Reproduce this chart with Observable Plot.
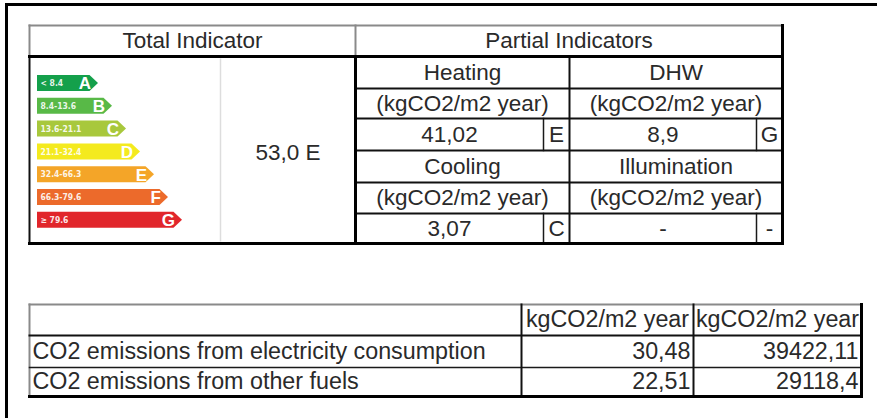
<!DOCTYPE html>
<html><head><meta charset="utf-8">
<script src="https://cdn.jsdelivr.net/npm/d3@7"></script>
<script src="https://cdn.jsdelivr.net/npm/@observablehq/plot@0.6"></script>
<style>body{margin:0;background:#fff}#chart svg{display:block}</style>
</head><body><div id="chart"></div>
<script>
// ---- data ----
const tableHeaders = ["Total Indicator", "Partial Indicators"];
const classes = ["A", "B", "C", "D", "E", "F", "G"];
const classRanges = ["< 8.4", "8.4-13.6", "13.6-21.1", "21.1-32.4", "32.4-66.3", "66.3-79.6", "\u2265 79.6"];
const totalValue = 53.0;
const totalClass = "E";
const partialNames = ["Heating", "DHW", "Cooling", "Illumination"];
const partialUnit = "(kgCO2/m2 year)";
const partialValues = [41.02, 8.9, 3.07, null];
const partialClasses = ["E", "G", "C", "-"];
const emissionHeaders = ["kgCO2/m2 year", "kgCO2/m2 year"];
const emissionRows = ["CO2 emissions from electricity consumption", "CO2 emissions from other fuels"];
const emissionPerM2 = [30.48, 22.51];
const emissionTotal = [39422.11, 29118.4];

// ---- style ----
const classColors = ["#14a04b", "#58b947", "#a8c83c", "#f4ea1e", "#f4a528", "#ec6a2b", "#e1262b"];
const FONT = "Liberation Sans, Arial, sans-serif";
const NARROW = "Liberation Sans Narrow, DejaVu Sans Condensed, Arial Narrow, sans-serif";
const INK = "#2a2a2a";
const FS = 22.5;
const FS_LOW = 23.3;

// ---- layout ----
const W = 877, H = 418;
const T = {left: 29, faint: 220, split: 355, right: 782, top: 25, head: 56, bottom: 243};
const pRows = [56, 88, 118, 150, 182, 213, 243];
const pCols = [355, 569, 782];
const letterW = 26;
const B = {cols: [29, 521, 693, 861], rows: [304, 335, 367, 396]};
const L = {x0: 37, y0: 83, step: 22.8, h: 16, len0: 61, lenStep: 14, tip: 8.5};

const fmt = v => v == null ? "-" : String(v).replace(".", ",");

// ---- segments ----
const seg = (x1, y1, x2, y2) => ({x1, y1, x2, y2});
const linkMark = (list, stroke, strokeWidth, cap = "square") =>
  Plot.link(list, {x1: "x1", y1: "y1", x2: "x2", y2: "y2", stroke, strokeWidth, strokeLinecap: cap});

const frame = [seg(6, 4, W + 5, 4), seg(6, 4, 6, H + 5)];
const grayLines = [
  seg(T.left, T.top, T.right, T.top),
  seg(T.left, T.top, T.left, T.head),
  seg(T.split, T.top, T.split, T.head),
  seg(B.cols[0], B.rows[0], B.cols[3], B.rows[0]),
  seg(B.cols[0], B.rows[0], B.cols[0], B.rows[3])
];
const faintLines = [seg(T.faint, T.head + 2, T.faint, T.bottom - 2)];
const blackThick = [
  seg(T.left, T.head, T.right, T.head),
  seg(T.left, T.bottom, T.right, T.bottom),
  seg(T.right, T.top, T.right, T.bottom),
  seg(T.split, T.head, T.split, T.bottom),
  seg(B.cols[0], B.rows[3], B.cols[3], B.rows[3]),
  seg(B.cols[3], B.rows[0], B.cols[3], B.rows[3])
];
const blackMid = [
  seg(T.left, T.head, T.left, T.bottom),
  ...pRows.slice(1, -1).map(y => seg(T.split, y, T.right, y)),
  seg(pCols[1], T.head, pCols[1], T.bottom),
  seg(B.cols[0], B.rows[1], B.cols[3], B.rows[1]),
  seg(B.cols[1], B.rows[0], B.cols[1], B.rows[3]),
  seg(B.cols[2], B.rows[0], B.cols[2], B.rows[3])
];
const blackThin = [
  seg(B.cols[0], B.rows[2], B.cols[3], B.rows[2])
];
[2, 5].forEach(r => [1, 2].forEach(c => blackThin.push(seg(pCols[c] - letterW, pRows[r], pCols[c] - letterW, pRows[r + 1]))));

// ---- texts ----
const mid = (a, b) => (a + b) / 2;
const textsMid = [], lowMid = [], lowStart = [], lowEnd = [];
textsMid.push({x: mid(T.left, T.split), y: mid(T.top, T.head), t: tableHeaders[0]});
textsMid.push({x: mid(T.split, T.right), y: mid(T.top, T.head), t: tableHeaders[1]});
textsMid.push({x: mid(T.faint, T.split), y: mid(T.head, T.bottom) + 3, t: `${totalValue.toFixed(1).replace(".", ",")} ${totalClass}`});
partialNames.forEach((name, i) => {
  const c = i % 2, block = Math.floor(i / 2);
  const x0 = pCols[c], x1 = pCols[c + 1];
  const r0 = block * 3;
  textsMid.push({x: mid(x0, x1), y: mid(pRows[r0], pRows[r0 + 1]), t: name});
  textsMid.push({x: mid(x0, x1), y: mid(pRows[r0 + 1], pRows[r0 + 2]), t: partialUnit});
  textsMid.push({x: mid(x0, x1 - letterW), y: mid(pRows[r0 + 2], pRows[r0 + 3]), t: fmt(partialValues[i])});
  textsMid.push({x: mid(x1 - letterW, x1), y: mid(pRows[r0 + 2], pRows[r0 + 3]), t: partialClasses[i]});
});
emissionHeaders.forEach((h, j) => lowMid.push({x: mid(B.cols[j + 1], B.cols[j + 2]), y: mid(B.rows[0], B.rows[1]), t: h}));
emissionRows.forEach((r, i) => {
  const y = mid(B.rows[i + 1], B.rows[i + 2]);
  lowStart.push({x: B.cols[0] + 3, y, t: r});
  lowEnd.push({x: B.cols[2] - 3, y, t: fmt(emissionPerM2[i])});
  lowEnd.push({x: B.cols[3] - 3, y, t: fmt(emissionTotal[i])});
});

// ---- energy label arrows ----
const arrowMarks = [];
const rangeTexts = [], letterTexts = [];
classes.forEach((c, i) => {
  const yc = L.y0 + i * L.step;
  const tip = L.x0 + L.len0 + i * L.lenStep;
  const end = tip - L.tip;
  const pts = [
    {y: yc - L.h / 2, x1: L.x0, x2: end},
    {y: yc, x1: L.x0, x2: tip},
    {y: yc + L.h / 2, x1: L.x0, x2: end}
  ];
  arrowMarks.push(Plot.areaX(pts, {y: "y", x1: "x1", x2: "x2", fill: classColors[i], curve: "linear"}));
  rangeTexts.push({x: L.x0 + 3, y: yc, t: classRanges[i]});
  letterTexts.push({x: end + 1, y: yc + 0.5, t: c});
});

const txt = (list, anchor, size) => Plot.text(list, {x: "x", y: "y", text: "t", textAnchor: anchor, fill: INK, fontSize: size, fontFamily: FONT, lineAnchor: "middle"});

const chart = Plot.plot({
  width: W, height: H,
  margin: 0,
  x: {domain: [0, W], range: [0, W], axis: null},
  y: {domain: [0, H], range: [0, H], axis: null},
  style: {background: "#fff"},
  marks: [
    ...arrowMarks,
    Plot.text(rangeTexts, {x: "x", y: "y", text: "t", textAnchor: "start", fill: "#fff", fillOpacity: 0.9, fontSize: 8.5, fontWeight: "bold", fontFamily: NARROW, lineAnchor: "middle"}),
    Plot.text(letterTexts, {x: "x", y: "y", text: "t", textAnchor: "end", fill: "#fff", fontSize: 17, fontWeight: "bold", fontFamily: FONT, lineAnchor: "middle"}),
    linkMark(faintLines, "#ddd", 1.5, "butt"),
    linkMark(grayLines, "#8a8a8a", 2),
    linkMark(blackThin, "#1a1a1a", 1.5),
    linkMark(blackMid, "#111", 2),
    linkMark(blackThick, "#000", 3),
    linkMark(frame, "#000", 3),
    txt(textsMid, "middle", FS),
    txt(lowMid, "middle", FS_LOW),
    txt(lowStart, "start", FS_LOW),
    txt(lowEnd, "end", FS_LOW)
  ]
});
document.getElementById("chart").append(chart);
</script>
</body></html>
